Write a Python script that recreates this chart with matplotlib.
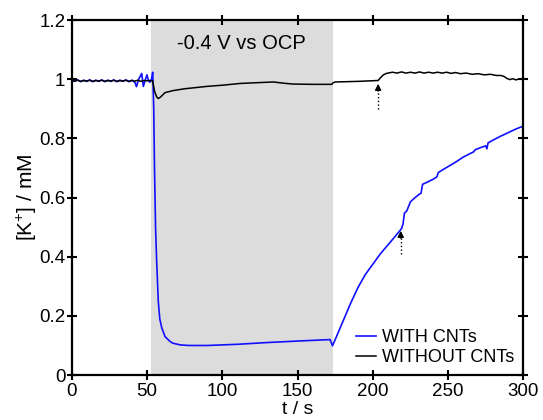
import numpy as np
import matplotlib.pyplot as plt

plt.rcParams['font.family'] = ['Liberation Sans', 'DejaVu Sans']
plt.rcParams['mathtext.fontset'] = 'custom'
plt.rcParams['mathtext.rm'] = 'Liberation Sans'
plt.rcParams['mathtext.it'] = 'Liberation Sans'

# WITHOUT CNTs (black)
t_without = [0, 2, 4, 6, 8, 10, 12, 14, 16, 18, 20, 22, 24, 26, 28, 30, 32, 34, 36, 38,
             40, 42, 44, 46, 48, 50, 52, 53.8, 55, 56.5, 57.5, 59, 62, 67.5, 75, 89.7,
             100, 111.8, 125, 134, 140.5, 147, 160, 172.7, 173.5, 175, 190, 203.5,
             205, 207, 209, 211, 213, 216, 219, 222, 225, 228, 231, 234, 237, 240, 243,
             246, 249, 252, 255, 258, 262, 266, 270, 274, 278, 282, 285, 287, 289, 291,
             293, 295, 297, 300]
k_without = [0.996, 0.994, 0.997, 0.993, 0.996, 0.994, 0.997, 0.993, 0.996, 0.994,
             0.997, 0.993, 0.996, 0.994, 0.997, 0.993, 0.996, 0.994, 0.997, 0.993,
             0.996, 0.994, 0.997, 0.993, 0.996, 0.995, 0.996, 0.995, 0.96, 0.94, 0.935,
             0.94, 0.955, 0.962, 0.968, 0.976, 0.980, 0.986, 0.989, 0.991, 0.987, 0.984,
             0.983, 0.983, 0.988, 0.991, 0.993, 0.996, 1.005, 1.015, 1.020, 1.022,
             1.024, 1.021, 1.025, 1.021, 1.024, 1.021, 1.025, 1.021, 1.024, 1.021,
             1.024, 1.021, 1.024, 1.020, 1.023, 1.019, 1.021, 1.017, 1.019, 1.015,
             1.017, 1.013, 1.013, 1.010, 1.003, 0.999, 1.002, 0.998, 1.001, 0.999]

# WITH CNTs (blue)
t_with = [0, 2, 4, 6, 8, 10, 12, 14, 16, 18, 20, 22, 24, 26, 28, 30, 32, 34, 36, 38,
          40, 42, 43, 44.5, 46.5, 47.6, 49, 50, 51, 52, 53, 53.8, 54.5, 55, 55.7,
          56.4, 57.5, 58.5, 59.8, 62, 65, 67, 72, 78, 90, 110, 130, 150, 171.6,
          173.2, 175, 180, 185, 190, 195, 200, 205, 210, 215, 219, 220, 221,
          222.5, 225, 228, 231, 232, 233, 236, 240, 242.5, 243.5, 246, 250, 255,
          260, 265, 267, 268, 272, 275, 275.7, 276.5, 280, 285, 290, 295, 300]
k_with = [0.997, 0.993, 0.998, 0.992, 0.997, 0.993, 0.998, 0.992, 0.997, 0.993,
          0.998, 0.992, 0.997, 0.993, 0.998, 0.992, 0.997, 0.993, 0.998, 0.992,
          0.997, 0.990, 0.975, 1.000, 1.020, 0.976, 1.000, 1.015, 0.995, 0.990,
          1.000, 1.024, 0.90, 0.70, 0.50, 0.39, 0.25, 0.19, 0.16, 0.13, 0.115,
          0.108, 0.102, 0.100, 0.100, 0.104, 0.110, 0.115, 0.120, 0.099, 0.12,
          0.18, 0.24, 0.295, 0.34, 0.375, 0.41, 0.44, 0.47, 0.495, 0.51, 0.548,
          0.555, 0.586, 0.600, 0.612, 0.615, 0.645, 0.652, 0.662, 0.670, 0.685,
          0.693, 0.705, 0.720, 0.737, 0.750, 0.755, 0.762, 0.770, 0.775, 0.765,
          0.785, 0.795, 0.808, 0.820, 0.832, 0.842]

shade_span = (53, 173.5)
x_ticks = [0, 50, 100, 150, 200, 250, 300]
y_ticks = [0, 0.2, 0.4, 0.6, 0.8, 1, 1.2]
y_ticklabels = ['0', '0.2', '0.4', '0.6', '0.8', '1', '1.2']

fig = plt.figure(figsize=(5.43, 4.2), dpi=100)
ax = fig.add_axes([0.132, 0.107, 0.832, 0.845])

ax.axvspan(*shade_span, color='#dcdcdc', lw=0, zorder=0)
ax.text(113, 1.122, '-0.4 V vs OCP', ha='center', va='center', fontsize=14.5)

ax.plot(t_with, k_with, color='#1010ff', lw=1.2, label='WITH CNTs')
ax.plot(t_without, k_without, color='black', lw=1.1, label='WITHOUT CNTs')

# dotted arrows
for x0, y0, y1 in [(203.5, 0.90, 0.985), (218.5, 0.41, 0.488)]:
    ax.plot([x0, x0], [y0, y1 - 0.02], color='black', lw=1, ls=':')
    ax.annotate('', xy=(x0, y1), xytext=(x0, y1 - 0.025),
                arrowprops=dict(arrowstyle='-|>', color='black', lw=1,
                                mutation_scale=9, shrinkA=0, shrinkB=0))

ax.set_xlim(0, 300)
ax.set_ylim(0, 1.2)
ax.set_xticks(x_ticks)
ax.set_yticks(y_ticks)
ax.set_yticklabels(y_ticklabels)
ax.tick_params(direction='inout', length=7, width=1.5, labelsize=13.5,
               top=True, right=True, pad=1)
ax.tick_params(axis='x', pad=2)
for s in ax.spines.values():
    s.set_linewidth(1.6)

ax.set_xlabel('t / s', fontsize=14, labelpad=1)
ax.set_ylabel(r'[K$^{+}$] / mM', fontsize=15, labelpad=0)

ax.legend(loc='lower right', frameon=False, fontsize=13, handlelength=1.1,
          handletextpad=0.35, labelspacing=0.15, borderaxespad=0.1,
          bbox_to_anchor=(1.0, 0.0))

fig.savefig('out.png', dpi=100)
